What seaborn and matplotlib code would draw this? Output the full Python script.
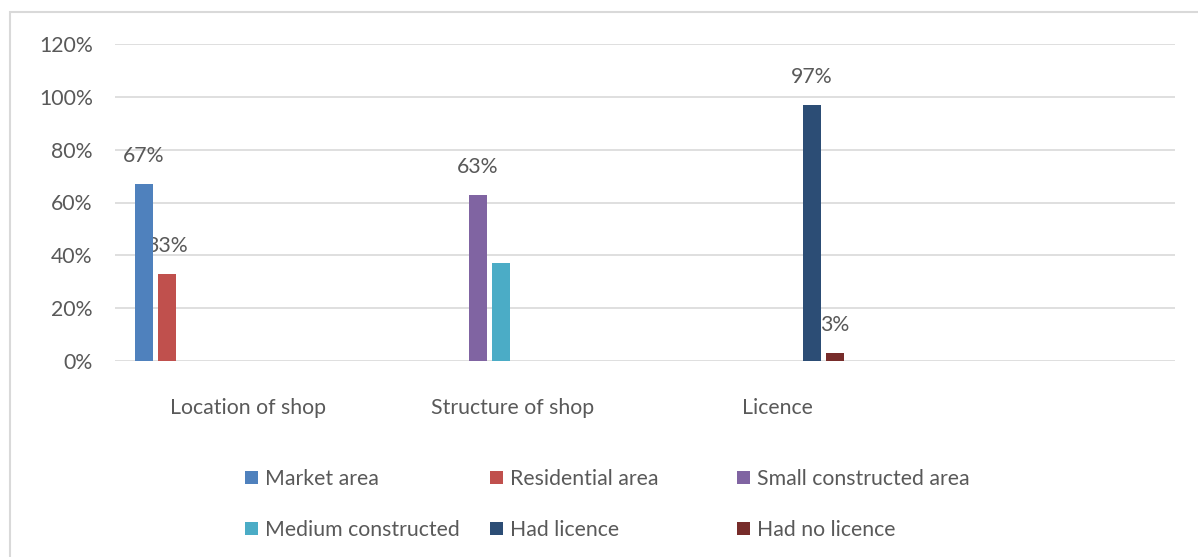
import matplotlib
matplotlib.use("Agg")
import matplotlib.pyplot as plt
from matplotlib.patches import Patch, Rectangle
import pandas as pd
import seaborn as sns

# Survey results: share of shops in each answer group
categories = ["Location of shop", "Structure of shop", "Licence"]
series = ["Market area", "Residential area", "Small constructed area",
          "Medium constructed", "Had licence", "Had no licence"]
series_category = ["Location of shop", "Location of shop",
                   "Structure of shop", "Structure of shop",
                   "Licence", "Licence"]
values = [0.67, 0.33, 0.63, 0.37, 0.97, 0.03]
labelled = [True, True, True, False, True, True]
colors = ["#4F81BD", "#C0504D", "#8064A2", "#4BACC6", "#2C4D75", "#772C2A"]
y_ticks = [0.0, 0.2, 0.4, 0.6, 0.8, 1.0, 1.2]

TEXT = "#595959"
GRID = "#D9D9D9"
FS = 15.3

sns.set_theme(style="white")
plt.rcParams["font.family"] = ["Lato", "DejaVu Sans"]

df = pd.DataFrame({"category": series_category, "series": series, "value": values})

# the source sheet has ten series columns per group; four of them are empty
blanks = [" ", "  ", "   ", "    "]
hue_order = series[0:2] + [blanks[0]] + series[2:4] + [blanks[1]] + series[4:6] + blanks[2:]
palette = dict(zip(series, colors))
palette.update({b: "white" for b in blanks})

fig, ax = plt.subplots(figsize=(11.98, 5.57), dpi=100)
fig.subplots_adjust(left=115 / 1198, right=1175 / 1198,
                    bottom=1 - 361 / 557, top=1 - 44 / 557)

sns.barplot(data=df, x="category", y="value", hue="series",
            order=categories + [""], hue_order=hue_order, palette=palette,
            width=0.87, gap=0.22, dodge=True, saturation=1, linewidth=0,
            legend=False, ax=ax)

# value labels sit above the bars, drawn underneath them
for p in ax.patches:
    h = p.get_height()
    for v, show in zip(values, labelled):
        if show and abs(h - v) < 1e-9:
            ax.annotate(f"{v:.0%}", (p.get_x() + p.get_width() / 2, h),
                        xytext=(0, 20), textcoords="offset points",
                        ha="center", va="center", fontsize=FS, color=TEXT,
                        zorder=0.8)

ax.set_ylim(0, 1.2)
ax.set_yticks(y_ticks)
ax.set_yticklabels([f"{t:.0%}" for t in y_ticks])
ax.set_xlabel("")
ax.set_ylabel("")
ax.set_axisbelow(True)
ax.yaxis.grid(True, color=GRID, linewidth=1.2)
ax.xaxis.grid(False)
for s in ax.spines.values():
    s.set_visible(False)
ax.tick_params(axis="y", length=0, pad=16, labelsize=FS, labelcolor=TEXT)
ax.tick_params(axis="x", length=0, pad=27, labelsize=FS, labelcolor=TEXT)

# legend: three columns of two entries, filled row by row
handles = [Patch(facecolor=c, edgecolor="none") for c in colors]
col_x = [245 / 1198, 490 / 1198, 737 / 1198]
for k, x in enumerate(col_x):
    idx = [k, k + 3]
    leg = fig.legend([handles[i] for i in idx], [series[i] for i in idx],
                     loc="upper left", bbox_to_anchor=(x, 1 - 469 / 557),
                     frameon=False, fontsize=FS, handlelength=0.6,
                     handleheight=0.6, handletextpad=0.35, labelspacing=1.45,
                     borderpad=0, borderaxespad=0)
    for t in leg.get_texts():
        t.set_color(TEXT)

# chart frame
fig.add_artist(Rectangle((10 / 1198, -0.1), 1.2, 1 - 12 / 557 + 0.1,
                         transform=fig.transFigure, fill=False,
                         edgecolor=GRID, linewidth=1.5))

fig.savefig("out.png", dpi=100, facecolor="white")
